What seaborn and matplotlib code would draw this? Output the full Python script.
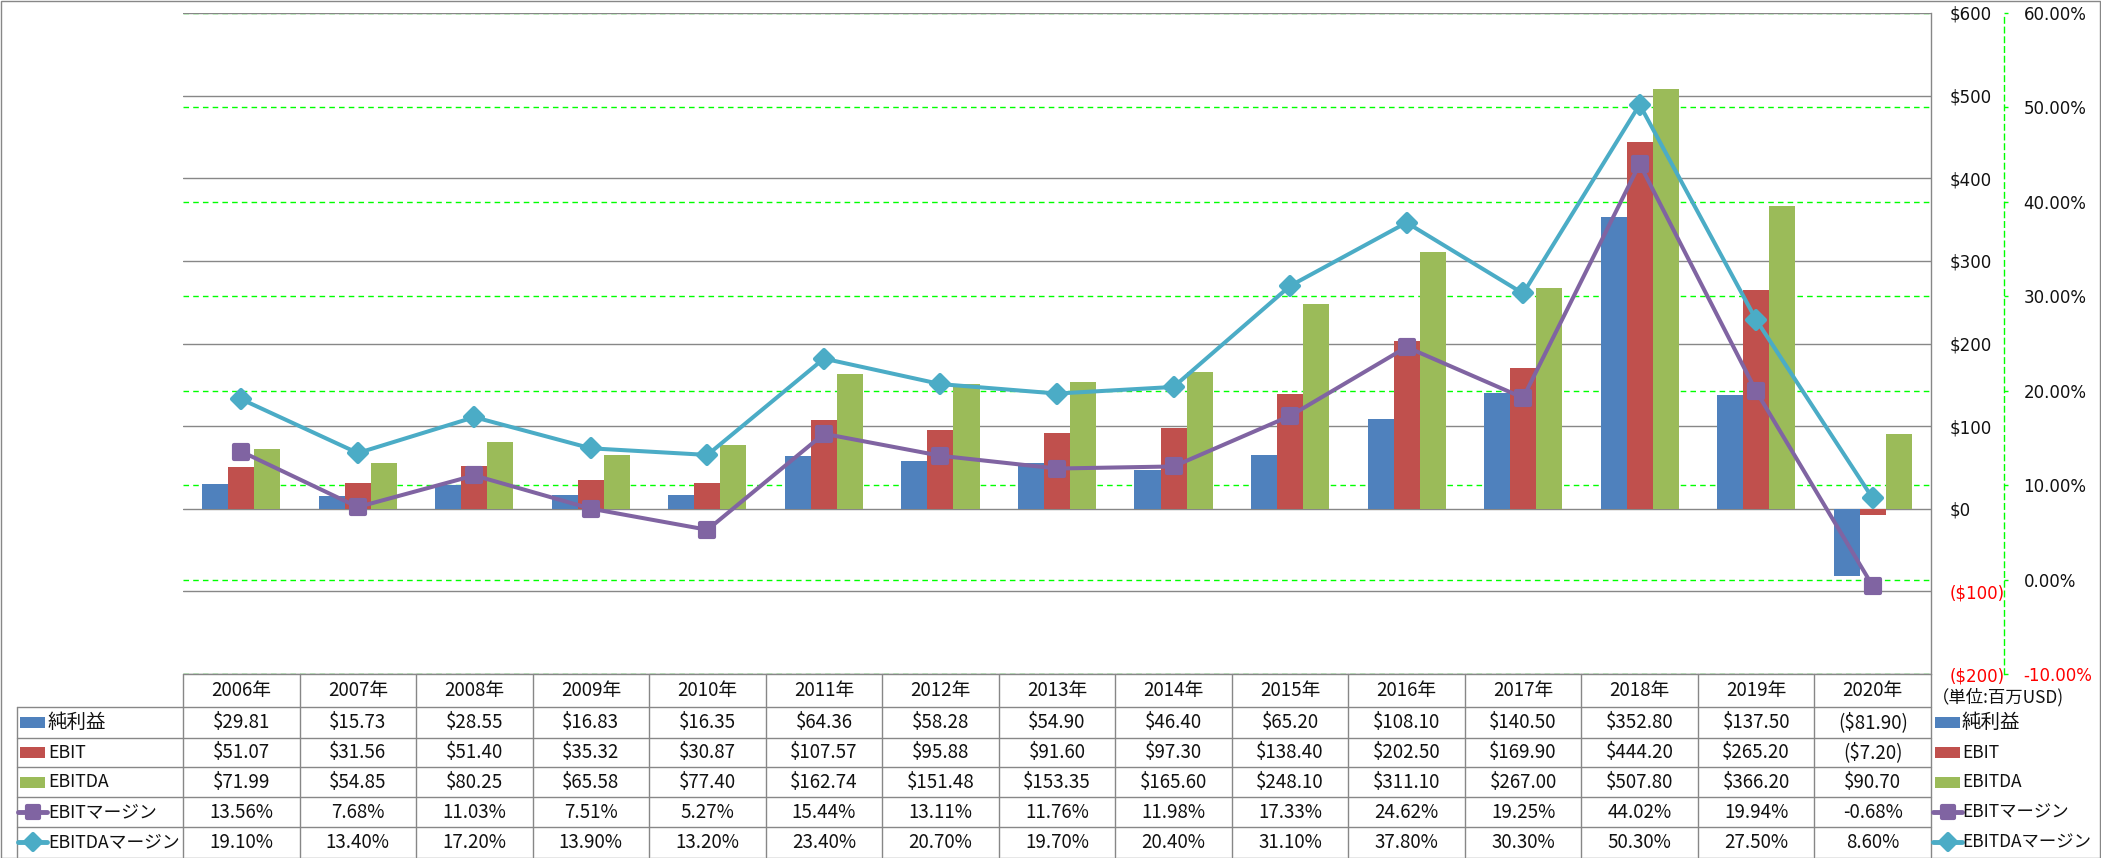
import numpy as np
import pandas as pd
import matplotlib
matplotlib.use("Agg")
import matplotlib.pyplot as plt
import seaborn as sns
from matplotlib.markers import MarkerStyle
from matplotlib.lines import Line2D
from matplotlib.patches import Rectangle

# ---------------- data ----------------
years = ["2006年", "2007年", "2008年", "2009年", "2010年", "2011年", "2012年", "2013年",
         "2014年", "2015年", "2016年", "2017年", "2018年", "2019年", "2020年"]
net_income = [29.81, 15.73, 28.55, 16.83, 16.35, 64.36, 58.28, 54.90, 46.40, 65.20,
              108.10, 140.50, 352.80, 137.50, -81.90]
ebit = [51.07, 31.56, 51.40, 35.32, 30.87, 107.57, 95.88, 91.60, 97.30, 138.40,
        202.50, 169.90, 444.20, 265.20, -7.20]
ebitda = [71.99, 54.85, 80.25, 65.58, 77.40, 162.74, 151.48, 153.35, 165.60, 248.10,
          311.10, 267.00, 507.80, 366.20, 90.70]
ebit_margin = [13.56, 7.68, 11.03, 7.51, 5.27, 15.44, 13.11, 11.76, 11.98, 17.33,
               24.62, 19.25, 44.02, 19.94, -0.68]
ebitda_margin = [19.10, 13.40, 17.20, 13.90, 13.20, 23.40, 20.70, 19.70, 20.40, 31.10,
                 37.80, 30.30, 50.30, 27.50, 8.60]
bar_names = ["純利益", "EBIT", "EBITDA"]
line_names = ["EBITマージン", "EBITDAマージン"]
money_ticks = [-200, -100, 0, 100, 200, 300, 400, 500, 600]
pct_ticks = [-10, 0, 10, 20, 30, 40, 50, 60]
unit_label = "（単位:百万USD)"

# ---------------- style ----------------
bar_colors = ["#4F81BD", "#C0504D", "#9BBB59"]
line_colors = ["#8064A2", "#4BACC6"]
GRID_GRAY = "#878787"
GREEN = "#00FF00"
RED = "#FF0000"
TXT = "#111111"
sns.set_style("white")
plt.rcParams["font.family"] = ["DejaVu Sans"]
JP = ["Noto Sans CJK JP", "DejaVu Sans"]

W, H = 2101, 858
fig = plt.figure(figsize=(W / 100, H / 100), dpi=100)
fig.patch.set_facecolor("white")

def fy(px):
    return 1 - px / H

def fx(px):
    return px / W

PLOT_L, PLOT_R, PLOT_T, PLOT_B = 183, 1931, 13, 674
ax = fig.add_axes([fx(PLOT_L), fy(PLOT_B), fx(PLOT_R) - fx(PLOT_L), fy(PLOT_T) - fy(PLOT_B)])

df = pd.DataFrame({
    "year": years * 3,
    "series": [bar_names[0]] * len(years) + [bar_names[1]] * len(years) + [bar_names[2]] * len(years),
    "value": net_income + ebit + ebitda,
})
sns.barplot(data=df, x="year", y="value", hue="series", order=years, hue_order=bar_names,
            palette=bar_colors, width=0.67, saturation=1, errorbar=None, legend=False,
            linewidth=0, ax=ax)

n = len(years)

# percent grid axis (behind the bars) and percent line axis (on top)
ax_grid = ax.twinx()
ax_top = ax.twinx()

ax.set_xlim(-0.5, n - 0.5)
ax.set_ylim(money_ticks[0], money_ticks[-1])
ax.yaxis.tick_right()
ax.set_yticks(money_ticks)
ax.set_yticklabels([(f"${v:,.0f}" if v >= 0 else f"(${-v:,.0f})") for v in money_ticks])
ax.tick_params(axis="y", which="both", left=False, right=False, length=0, pad=13.7,
               labelsize=12, labelright=True, labelleft=False)
ax.tick_params(axis="x", length=0, labelbottom=False)
ax.set_xlabel("")
ax.set_ylabel("")
ax.yaxis.grid(True, color=GRID_GRAY, lw=1.0)
ax.set_axisbelow(True)
for s in ["left", "top", "bottom"]:
    ax.spines[s].set_visible(False)
ax.spines["right"].set_color(GRID_GRAY)
ax.spines["right"].set_linewidth(1.0)

ax_grid.set_ylim(pct_ticks[0], pct_ticks[-1])
ax_grid.set_yticks(pct_ticks)
ax_grid.yaxis.grid(True, color=GREEN, lw=1.0, ls=(0, (4, 3)))
ax_grid.tick_params(axis="y", length=0, labelright=False, labelleft=False)
for s in ax_grid.spines.values():
    s.set_visible(False)

ax_grid.set_zorder(0)
ax.set_zorder(1)
ax_top.set_zorder(2)
ax_grid.patch.set_visible(True)
ax_grid.patch.set_facecolor("white")
ax.patch.set_visible(False)
ax_top.patch.set_visible(False)

xs = np.arange(n)
sns.lineplot(x=xs, y=ebit_margin, ax=ax_top, color=line_colors[0], lw=2.9,
             marker=MarkerStyle("s", joinstyle="round"), markersize=10, markeredgewidth=3,
             markeredgecolor=line_colors[0], markerfacecolor=line_colors[0],
             solid_joinstyle="round")
sns.lineplot(x=xs, y=ebitda_margin, ax=ax_top, color=line_colors[1], lw=2.9,
             marker=MarkerStyle("D", joinstyle="round"), markersize=9.5, markeredgewidth=3,
             markeredgecolor=line_colors[1], markerfacecolor=line_colors[1],
             solid_joinstyle="round")
ax.set_xlim(-0.5, n - 0.5)
ax_top.set_ylim(pct_ticks[0], pct_ticks[-1])
ax_top.set_yticks(pct_ticks)
ax_top.set_yticklabels([f"{v:.2f}%" for v in pct_ticks])
ax_top.set_xlabel("")
ax_top.set_ylabel("")
ax_top.tick_params(axis="y", direction="out", length=3, width=1, color=GREEN, pad=11,
                   labelsize=12)
for s in ["left", "top", "bottom"]:
    ax_top.spines[s].set_visible(False)
ax_top.spines["right"].set_position(("outward", 52.6))
ax_top.spines["right"].set_color(GREEN)
ax_top.spines["right"].set_linestyle((0, (4, 3)))
ax_top.spines["right"].set_linewidth(1.0)

# negative tick labels in red
for tick, v in zip(ax.yaxis.get_major_ticks(), money_ticks):
    tick.label2.set_color(RED if v < 0 else TXT)
for tick, v in zip(ax_top.yaxis.get_major_ticks(), pct_ticks):
    tick.label2.set_color(RED if v < 0 else TXT)

# ---------------- data table ----------------
def col_edge_fig(xdata):
    disp = ax.transData.transform((xdata, 0))
    return fig.transFigure.inverted().transform(disp)[0]

row_edges = [674, 707, 738, 767, 797, 827, 857]
LEG_L = 17
x_right = col_edge_fig(n - 0.5)
x_left_tab = col_edge_fig(-0.5)

def hline(x0, x1, ypx):
    fig.add_artist(Line2D([x0, x1], [fy(ypx), fy(ypx)], transform=fig.transFigure,
                          color=GRID_GRAY, lw=1.0))

def vline(xf, y0px, y1px):
    fig.add_artist(Line2D([xf, xf], [fy(y0px), fy(y1px)], transform=fig.transFigure,
                          color=GRID_GRAY, lw=1.0))

hline(x_left_tab, x_right, row_edges[0])
for ypx in row_edges[1:-1]:
    hline(fx(LEG_L), x_right, ypx)
for i in range(n + 1):
    vline(col_edge_fig(i - 0.5), row_edges[0], row_edges[-1])
vline(fx(LEG_L), row_edges[1], row_edges[-1])

def money_fmt(v):
    return f"${v:,.2f}" if v >= 0 else f"(${-v:,.2f})"

def pct_fmt(v):
    return f"{v:.2f}%"

rows = [
    [money_fmt(v) for v in net_income],
    [money_fmt(v) for v in ebit],
    [money_fmt(v) for v in ebitda],
    [pct_fmt(v) for v in ebit_margin],
    [pct_fmt(v) for v in ebitda_margin],
]
hy = (row_edges[0] + row_edges[1]) / 2
for i, yr in enumerate(years):
    fig.text(col_edge_fig(i), fy(hy), yr, ha="center", va="center", fontsize=13.5,
             family=JP, color=TXT)
for r, vals in enumerate(rows):
    cy = (row_edges[r + 1] + row_edges[r + 2]) / 2
    for i, s in enumerate(vals):
        fig.text(col_edge_fig(i), fy(cy), s, ha="center", va="center", fontsize=13.5,
                 family=JP, color=TXT)

# legend keys (table left column and right of table)
names = bar_names + line_names
markers = [None, None, None, MarkerStyle("s", joinstyle="round"), MarkerStyle("D", joinstyle="round")]
colors = bar_colors + line_colors

def draw_key(x0px, ypx, idx):
    if idx < 3:
        fig.add_artist(Rectangle((fx(x0px), fy(ypx + 5.5)), fx(25), 11 / H,
                                 transform=fig.transFigure, facecolor=colors[idx],
                                 edgecolor="none"))
    else:
        fig.add_artist(Line2D([fx(x0px - 2), fx(x0px + 27)], [fy(ypx), fy(ypx)],
                              transform=fig.transFigure, color=colors[idx], lw=3.5))
        fig.add_artist(Line2D([fx(x0px + 12.5)], [fy(ypx)], transform=fig.transFigure,
                              marker=markers[idx], markersize=8, markeredgewidth=3,
                              color=colors[idx], markerfacecolor=colors[idx],
                              markeredgecolor=colors[idx], lw=0))

for r in range(5):
    cy = (row_edges[r + 1] + row_edges[r + 2]) / 2
    fs = 14 if r == 0 else 12.8
    draw_key(20, cy, r)
    fig.text(fx(48), fy(cy), names[r], ha="left", va="center", fontsize=fs,
             family=JP, color=TXT)
    draw_key(1935, cy, r)
    fig.text(fx(1962), fy(cy), names[r], ha="left", va="center", fontsize=min(fs, 12.5) if r else fs,
             family=JP, color=TXT)

fig.text(fx(1932), fy(697), unit_label, ha="left", va="center", fontsize=12.5,
         family=JP, color=TXT)

# outer chart border
fig.add_artist(Rectangle((0.5 / W, 0.5 / H), (W - 1.5) / W, (H - 1.5) / H,
                         transform=fig.transFigure, facecolor="none",
                         edgecolor=GRID_GRAY, lw=1.0))

fig.savefig("out.png", dpi=100)
